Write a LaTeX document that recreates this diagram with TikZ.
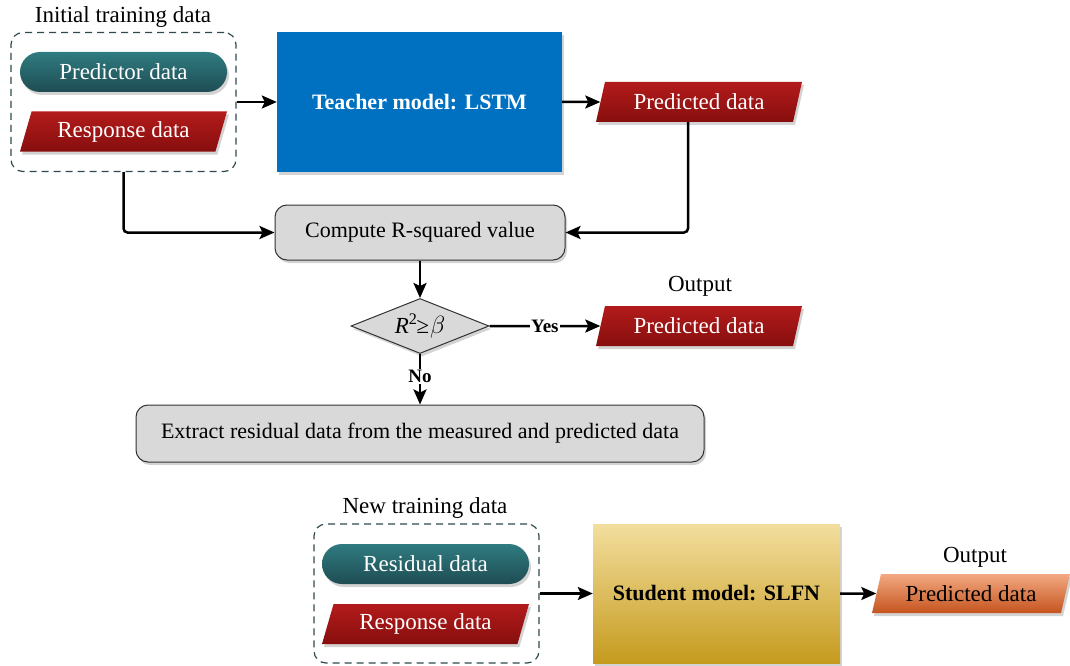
\documentclass[tikz,border=0pt]{standalone}
\usepackage{fontspec}
\setmainfont{Liberation Serif}
\usetikzlibrary{shapes.geometric,shadows,arrows.meta}
\definecolor{tealtop}{HTML}{2F7B80}
\definecolor{tealbot}{HTML}{1E4D53}
\definecolor{redtop}{HTML}{B31B1B}
\definecolor{redbot}{HTML}{870E0E}
\definecolor{boxgray}{HTML}{D9D9D9}
\definecolor{lstmblue}{HTML}{0070C0}
\definecolor{stutop}{HTML}{F3DE9E}
\definecolor{stubot}{HTML}{C59B1E}
\definecolor{orgtop}{HTML}{F3A981}
\definecolor{orgbot}{HTML}{C4541F}
\definecolor{dashcol}{HTML}{2F4A4F}
\tikzset{
  base/.style={font=\fontsize{22}{26}\selectfont, inner sep=0pt, align=center},
  big/.style={font=\fontsize{23}{27}\selectfont},
  shd/.style={drop shadow={shadow xshift=2pt, shadow yshift=-3pt, opacity=0.35, fill=gray}},
  pill/.style={base, big, shd, text=white, rounded corners=20pt, top color=tealtop, bottom color=tealbot, minimum width=207pt, minimum height=40pt},
  para/.style={base, big, shd, trapezium, trapezium left angle=61, trapezium right angle=119, trapezium stretches body=true, minimum width=207pt, minimum height=40pt},
  redpara/.style={para, text=white, top color=redtop, bottom color=redbot},
  grp/.style={draw=dashcol, line width=1.2pt, dash pattern=on 7pt off 5pt, rounded corners=12pt, minimum width=225pt, minimum height=139pt, inner sep=0pt},
  graybox/.style={base, shd, draw=black!80, line width=1pt, fill=boxgray, rounded corners=12pt},
  arr/.style={line width=2.5pt, -{Stealth[length=15pt,width=13pt,inset=3pt]}},
  lbl/.style={base, fill=white, inner sep=1pt, font=\fontsize{19}{22}\selectfont\bfseries},
  title/.style={base, big}
}
\begin{document}
\begin{tikzpicture}[x=1pt,y=-1pt]
\useasboundingbox (0,0) rectangle (1070,666);
% group 1
\node[grp] (g1) at (123.5,102) {};
\node[title] (t1) at (123,17) {Initial training data};
\node[pill] (pred) at (123.5,72) {Predictor data};
\node[redpara] (resp) at (123.5,131.5) {Response data};
% teacher
\node[base, shd, fill=lstmblue, text=white, font=\fontsize{22}{26}\selectfont\bfseries, minimum width=285pt, minimum height=139pt] (teacher) at (419.5,102) {Teacher model: LSTM};
\node[redpara, minimum width=206pt] (pd1) at (699,102) {Predicted data};
% compute
\node[graybox, minimum width=290pt, minimum height=55pt] (comp) at (420,232.5) {Compute R-squared value};
% diamond
\node[base, shd, diamond, draw=black!80, line width=1pt, fill=boxgray, aspect=2.5, minimum width=138pt, minimum height=55pt, font=\fontsize{23}{26}\selectfont] (dia) at (420,326) {\itshape R\textsuperscript{\upshape 2}\kern-1pt≥\kern1pt$\beta$};
\node[title] (out1) at (700,286) {Output};
\node[redpara, minimum width=206pt] (pd2) at (699,326) {Predicted data};
% extract
\node[graybox, minimum width=568pt, minimum height=57pt] (ext) at (420,433.5) {Extract residual data from the measured and predicted data};
% group 2
\node[grp] (g2) at (426.5,593.5) {};
\node[title] (t2) at (425,508) {New training data};
\node[pill] (resid) at (425.5,564) {Residual data};
\node[redpara] (resp2) at (425.5,624) {Response data};
% student
\node[base, shd, top color=stutop, bottom color=stubot, font=\fontsize{22}{26}\selectfont\bfseries, minimum width=247pt, minimum height=139pt] (stu) at (716.5,593.5) {Student model: SLFN};
\node[title] (out2) at (975,557) {Output};
\node[para, top color=orgtop, bottom color=orgbot, minimum width=198pt, minimum height=39pt] (pd3) at (971,593.5) {Predicted data};
% connectors
\draw[arr] (g1.east) -- (teacher.west);
\draw[arr] (teacher.east) -- (pd1.west);
\draw[arr, rounded corners=4pt] ([xshift=-11pt]pd1.south) |- (comp.east);
\draw[arr, rounded corners=4pt] (g1.south) |- (comp.west);
\draw[arr] (comp.south) -- (dia.north);
\draw[arr] (dia.east) -- node[lbl] {Yes} (pd2.west);
\draw[arr] (dia.south) -- node[lbl, pos=0.45] {No} (ext.north);
\draw[arr] (g2.east) -- (stu.west);
\draw[arr] (stu.east) -- (pd3.west);
\end{tikzpicture}
\end{document}
